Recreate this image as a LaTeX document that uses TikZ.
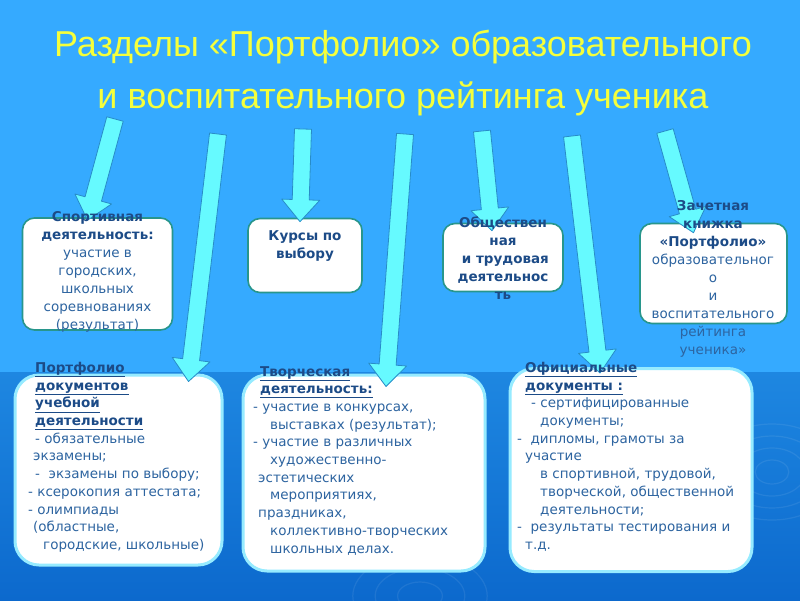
\documentclass[tikz,border=0pt]{standalone}
\usepackage{fontspec}
\setmainfont{DejaVu Sans}
\newfontfamily\titlefont{Liberation Sans}
\usepackage{tikz}
\usetikzlibrary{calc,positioning}

\definecolor{bgtop}{RGB}{53,170,255}
\definecolor{bgmid}{RGB}{30,135,225}
\definecolor{bgbot}{RGB}{12,105,205}
\definecolor{titleyel}{RGB}{245,255,60}
\definecolor{arrowfill}{RGB}{102,250,255}
\definecolor{arrowedge}{RGB}{40,140,200}
\definecolor{boxedge}{RGB}{40,150,140}
\definecolor{glow}{RGB}{150,235,255}
\definecolor{headblue}{RGB}{28,75,135}
\definecolor{bodyblue}{RGB}{45,100,160}

\newcommand\hd[1]{{\bfseries\color{headblue}#1}}
\newcommand\uhd[1]{{\bfseries\color{headblue}\underline{#1}}}
\newcommand\ind[1]{\hspace*{#1pt}}

% block arrow from tail #1 to tip #2
\newcommand\blockarrow[2]{%
 \coordinate (ah) at ($(#2)!22pt!(#1)$);
 \draw[arw] ($(#1)!8.5pt!90:(#2)$) -- ($(ah)!8.5pt!-90:(#1)$) -- ($(ah)!19pt!-90:(#1)$)
 -- (#2) -- ($(ah)!19pt!90:(#1)$) -- ($(ah)!8.5pt!90:(#1)$) -- ($(#1)!8.5pt!-90:(#2)$) -- cycle;}

\begin{document}
\begin{tikzpicture}[
 x=1pt, y=-1pt,
 topbox/.style={draw=boxedge, line width=1.6pt, fill=white, rounded corners=12pt, inner sep=0pt},
 botbox/.style={draw=glow, line width=3pt, fill=white, rounded corners=24pt, inner sep=0pt},
 txt/.style={font=\fontsize{13.5}{18}\selectfont, text=bodyblue, inner sep=0pt, align=center},
 ltxt/.style={font=\fontsize{13.5}{17.7}\selectfont, text=bodyblue, inner sep=0pt, align=left, anchor=north west},
 arw/.style={fill=arrowfill, draw=arrowedge, line width=0.8pt, line join=round},
 ripple/.style={draw=white, opacity=0.08, line width=1.2pt},
]
\useasboundingbox (0,0) rectangle (800,600);
% background
\fill[bgtop] (0,0) rectangle (800,372);
\shade[top color=bgmid, bottom color=bgbot] (0,372) rectangle (800,600);
\foreach \r in {12,24,36,48} \draw[ripple] (772,472) ellipse ({\r*1.4} and \r);
\foreach \r in {14,28,42} \draw[ripple] (420,596) ellipse ({\r*1.6} and \r);

% title
\node[font=\titlefont\fontsize{36}{40}\selectfont, text=titleyel, inner sep=0pt] (title1) at (403,47) {Разделы «Портфолио» образовательного};
\node[font=\titlefont\fontsize{36}{40}\selectfont, text=titleyel, inner sep=0pt] (title2) at (403,99) {и воспитательного рейтинга ученика};

% boxes
\node[topbox, minimum width=150pt, minimum height=112pt] (sport) at (97.5,274) {};
\node[topbox, minimum width=114pt, minimum height=74pt] (kurs) at (305,255.5) {};
\node[topbox, minimum width=120pt, minimum height=68pt] (obsh) at (503,257.5) {};
\node[topbox, minimum width=147pt, minimum height=100pt] (zach) at (713.5,273.5) {};
\node[botbox, minimum width=207pt, minimum height=190pt] (ucheb) at (118.5,470) {};
\node[botbox, minimum width=242pt, minimum height=196pt] (tvor) at (364,473) {};
\node[botbox, minimum width=242pt, minimum height=203pt] (ofic) at (631,470) {};

% arrows
\coordinate (s1) at (115,119); \coordinate (e1) at ([shift={(-10pt,-3pt)}]sport.north);
\coordinate (s2) at (218,134); \coordinate (e2) at ([shift={(70pt,-8pt)}]ucheb.north);
\coordinate (s3) at (303,129); \coordinate (e3) at ([shift={(-5pt,-4pt)}]kurs.north);
\coordinate (s4) at (405,134); \coordinate (e4) at ([shift={(22pt,-13pt)}]tvor.north);
\coordinate (s5) at (482,131); \coordinate (e5) at ([shift={(-11pt,-8pt)}]obsh.north);
\coordinate (s6) at (572,136); \coordinate (e6) at ([shift={(-31pt,-6pt)}]ofic.north);
\coordinate (s7) at (665,131); \coordinate (e7) at ([shift={(-20pt,-10pt)}]zach.north);
\foreach \i in {1,...,7} {\blockarrow{s\i}{e\i}}

% texts
\node[txt] (sportT) at ([yshift=2pt]sport.center)
 {\hd{Спортивная}\\\hd{деятельность:}\\участие в\\городских,\\школьных\\соревнованиях\\(результат)};
\node[txt] (kursT) at (305,246) {\hd{Курсы по}\\\hd{выбору}};
\node[txt] (obshT) at (503,258) {\hd{Обществен}\\\hd{ная}\\\hd{\ и трудовая}\\\hd{деятельнос}\\\hd{ть}};
\node[txt] (zachT) at (713,279) {\hd{Зачетная}\\\hd{книжка}\\\hd{«Портфолио»}\\образовательног\\о\\и\\воспитательного\\рейтинга\\ученика»};

\node[ltxt] (uchebT) at (28,362)
 {\ind{7}\uhd{Портфолио}\\\ind{7}\uhd{документов}\\\ind{7}\uhd{учебной}\\\ind{7}\uhd{деятельности}\\
 \ind{7}- обязательные\\\ind{5}экзамены;\\\ind{7}- \ экзамены по выбору;\\- ксерокопия аттестата;\\- олимпиады\\
 \ind{5}(областные,\\\ind{15}городские, школьные)};
\node[ltxt] (tvorT) at (253,366)
 {\ind{7}\uhd{Творческая}\\\ind{7}\uhd{деятельность:}\\- участие в конкурсах,\\\ind{17}выставках (результат);\\
 - участие в различных\\\ind{17}художественно-\\\ind{5}эстетических\\\ind{17}мероприятиях,\\\ind{5}праздниках,\\
 \ind{17}коллективно-творческих\\\ind{17}школьных делах.};
\node[ltxt] (oficT) at (517,362)
 {\ind{8}\uhd{Официальные}\\\ind{8}\uhd{документы :}\\\ind{14}- сертифицированные\\\ind{23}документы;\\
 - \ дипломы, грамоты за\\\ind{8}участие\\\ind{23}в спортивной, трудовой,\\\ind{23}творческой, общественной\\
 \ind{23}деятельности;\\- \ результаты тестирования и\\\ind{8}т.д.};
\end{tikzpicture}
\end{document}
